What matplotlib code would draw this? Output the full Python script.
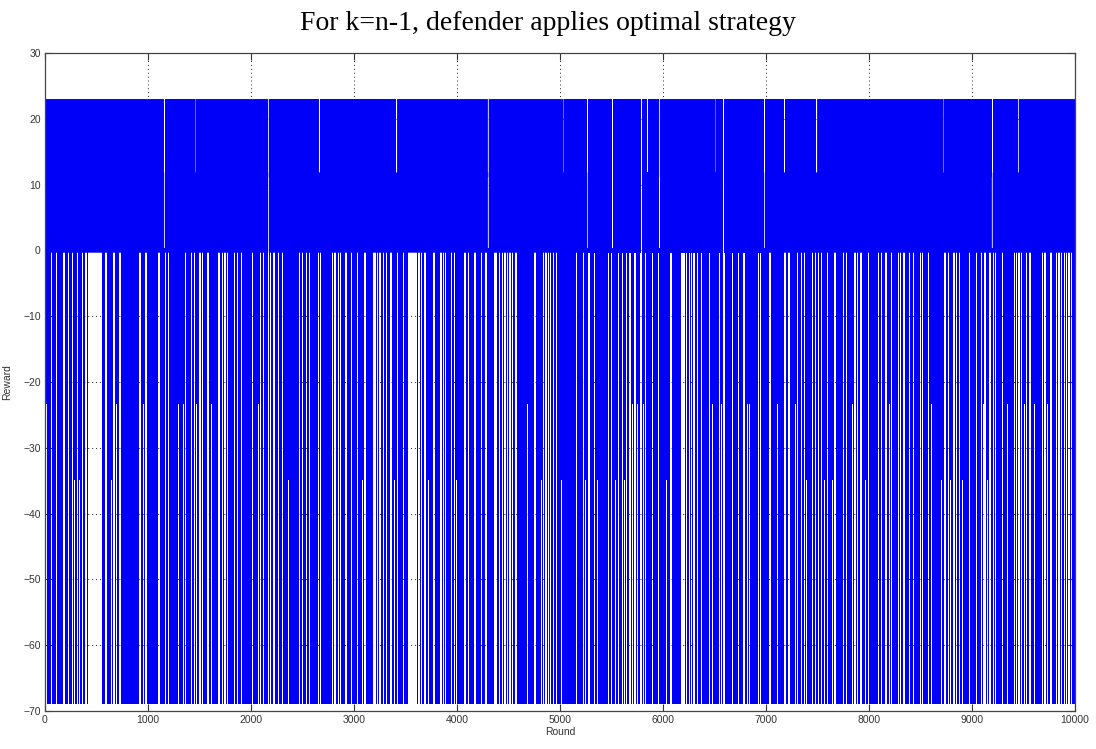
import numpy as np
import matplotlib
matplotlib.use("Agg")
import matplotlib.pyplot as plt

# ---- data ----
n_rounds = 10000
reward_levels = [23, 11.5, 0, -23, -34.5, -69]   # attainable rewards

# stretches with no drop below `floor` (white stripes in the negative half)
calm_center = [16, 65, 113, 165, 184, 227, 265, 285, 314, 333, 362, 395, 404, 482, 592, 647, 670, 696, 728, 922, 955, 981,
               1029, 1107, 1172, 1198, 1295, 1320, 1343, 1366, 1424, 1450, 1473, 1505, 1528, 1553, 1586, 1618, 1689, 1699, 1722, 1748, 1774, 1838, 1871, 1909, 1942, 2013,
               2039, 2071, 2094, 2119, 2145, 2168, 2191, 2223, 2265, 2307, 2362, 2469, 2498, 2540, 2566, 2653, 2676, 2708, 2767, 2793, 2815, 2848, 2870, 2922, 2977, 3032,
               3059, 3081, 3107, 3156, 3188, 3204, 3230, 3253, 3285, 3317, 3359, 3392, 3424, 3457, 3479, 3568, 3609, 3631, 3657, 3690, 3722, 3748, 3777, 3845, 3868, 3890, 3948, 3974, 3997,
               4078, 4110, 4175, 4239, 4262, 4281, 4320, 4369, 4385, 4411, 4443, 4466, 4489, 4514, 4540, 4573, 4683, 4757, 4822, 4838, 4864, 4887, 4909, 4935, 4967, 5000, 5016, 5058,
               5107, 5162, 5195, 5227, 5250, 5282, 5334, 5366, 5437, 5470, 5502, 5541, 5567, 5606, 5625, 5648, 5680, 5703, 5729, 5754, 5787, 5813, 5832, 5897, 5923, 5955, 5981, 6036, 6078,
               6117, 6192, 6230, 6256, 6278, 6301, 6333, 6375, 6408, 6450, 6482, 6547, 6570, 6592, 6676, 6699, 6731, 6786, 6819, 6838, 6926, 6948, 7039, 7087, 7110,
               7185, 7224, 7243, 7289, 7308, 7347, 7373, 7395, 7418, 7450, 7483, 7509, 7535, 7567, 7599, 7622, 7645, 7670, 7719, 7751, 7784, 7839, 7865, 7891, 7923, 7968, 7994, 8020, 8059, 8091,
               8123, 8165, 8198, 8220, 8253, 8285, 8308, 8340, 8359, 8392, 8431, 8456, 8502, 8521, 8554, 8576, 8609, 8706, 8738, 8770, 8793, 8825, 8851, 8877, 8910, 8942, 8974, 9094, 9126, 9149,
               9045, 9087, 9110, 9175, 9207, 9230, 9262, 9294, 9346, 9411, 9433, 9456, 9482, 9508, 9531, 9563, 9605, 9683, 9709, 9734, 9767, 9822, 9845, 9870, 9896, 9919, 9942, 9967]
calm_width = [4, 8, 8, 4, 8, 4, 8, 4, 8, 4, 8, 4, 8, 85, 8, 4, 8, 4, 8, 8, 4, 8,
              4, 8, 8, 8, 4, 4, 4, 8, 8, 8, 4, 8, 8, 4, 12, 4, 8, 4, 4, 8, 8, 8, 8, 8, 4, 8,
              4, 4, 8, 8, 4, 8, 8, 8, 8, 4, 4, 8, 8, 8, 4, 8, 4, 4, 4, 8, 8, 8, 4, 10, 8, 4,
              4, 4, 8, 4, 8, 8, 4, 8, 4, 8, 8, 4, 8, 4, 8, 48, 4, 8, 4, 8, 4, 4, 8, 8, 4, 8, 8, 4, 4,
              8, 4, 8, 8, 4, 8, 4, 8, 8, 8, 8, 8, 4, 8, 4, 8, 4, 8, 4, 8, 8, 4, 8, 4, 8, 4, 4, 4,
              4, 8, 4, 8, 4, 8, 4, 4, 4, 8, 8, 4, 8, 4, 4, 4, 8, 4, 8, 4, 8, 4, 8, 8, 4, 4, 4, 4, 8,
              4, 24, 4, 8, 4, 8, 4, 8, 4, 8, 4, 4, 4, 8, 8, 4, 8, 12, 4, 4, 4, 8, 8, 4, 4,
              8, 8, 4, 4, 8, 4, 4, 4, 4, 8, 4, 8, 4, 4, 8, 4, 4, 8, 4, 8, 4, 4, 8, 4, 8, 4, 8, 4, 4, 4,
              4, 8, 4, 8, 4, 8, 4, 8, 4, 8, 8, 4, 8, 4, 4, 8, 4, 4, 8, 8, 4, 8, 4, 8, 4, 4, 8, 4, 8, 4,
              4, 4, 4, 8, 4, 8, 4, 8, 4, 8, 4, 8, 4, 4, 8, 8, 4, 4, 8, 4, 8, 4, 8, 4, 8, 4, 8, 4]
calm_floor = [-23, 0, 0, 0, 0, 0, 0, -34.5, 0, -34.5, 0, 0, 0, 0, 0, -34.5, 0, -23, 0, 0, -23, 0,
              -23, 0, 0, 0, -23, -23, -23, 0, 0, 0, -23, 0, 0, 0, 0, -23, 0, -34.5, 0, 0, 0, 0, 0, 0, -23, 0,
              -34.5, -23, 0, 0, -34.5, 0, 0, 0, 0, 0, -34.5, 0, 0, 0, 0, 0, 0, -23, -34.5, 0, 0, 0, 0, 0, 0, 0,
              0, -34.5, 0, -34.5, 0, 0, 0, 0, 0, 0, 0, -34.5, 0, -23, 0, 0, -34.5, 0, 0, 0, -34.5, -23, 0, 0, 0, 0, 0, 0, -34.5,
              0, 0, 0, 0, -34.5, 0, -34.5, 0, 0, 0, 0, 0, 0, 0, 0, 0, -23, 0, -34.5, 0, 0, 0, 0, 0, 0, 0, -34.5, -34.5,
              0, 0, 0, 0, -34.5, 0, 0, -34.5, -23, 0, 0, -34.5, 0, 0, -34.5, 0, 0, -23, 0, -23, 0, -23, 0, 0, 0, 0, 0, -34.5, 0,
              -23, 0, 0, 0, 0, 0, 0, 0, -23, 0, -23, 0, -23, 0, 0, 0, 0, 0, -23, -23, 0, 0, 0, 0, -23,
              0, 0, 0, -23, 0, 0, 0, -34.5, -34.5, 0, 0, 0, 0, -34.5, 0, 0, -34.5, 0, 0, 0, 0, -23, 0, 0, 0, -34.5, 0, 0, 0, 0,
              0, 0, -23, 0, -23, 0, 0, 0, 0, 0, 0, 0, 0, 0, -23, 0, -23, -34.5, 0, 0, -34.5, 0, 0, 0, -34.5, 0, 0, 0, 0, -34.5,
              0, 0, -23, 0, 0, 0, 0, 0, -23, 0, 0, 0, 0, -23, 0, 0, -23, 0, 0, -23, 0, 0, 0, 0, 0, 0, 0, 0]

# rounds where the reward did not reach its usual maximum (white in the positive half)
short_center = [1159, 1456, 2171, 2663, 3009, 3414, 4304, 5039, 5269, 5512, 5793, 5852, 5874, 5965,
                6359, 6515, 6586, 6984, 7179, 7492, 8728, 9197, 9450]
short_lo = [0, 11.5, 0, 11.5, 11.5, 11.5, 0, 11.5, 0, 0, 0, 11.5, 0, 0,
            0, 11.5, 0, 0, 11.5, 11.5, 11.5, 0, 11.5]
short_hi = [23, 23, 23, 23, 23, 23, 23, 23, 23, 23, 23, 23, 23, 23,
            11.5, 23, 23, 23, 23, 23, 23, 23, 23]

x_ticks = list(range(0, 10001, 1000))
y_ticks = list(range(-70, 31, 10))

# ---- build envelope coverage for each reward band ----
rounds = np.arange(0, n_rounds + 1)
bands = [(11.5, 23), (0, 11.5), (-23, 0), (-34.5, -23), (-69, -34.5)]
cover = {b: np.ones(rounds.size, bool) for b in bands}

for c, w, f in zip(calm_center, calm_width, calm_floor):
    half = (w * 1.6) / 2
    sel = (rounds >= c - half) & (rounds <= c + half)
    for lo, hi in bands[2:]:
        if hi <= f + 1e-9:
            cover[(lo, hi)][sel] = False

for c, lo_, hi_ in zip(short_center, short_lo, short_hi):
    sel = (rounds >= c - 3) & (rounds <= c + 3)
    for lo, hi in bands[:2]:
        if lo >= lo_ - 1e-9 and hi <= hi_ + 1e-9:
            cover[(lo, hi)][sel] = False

# ---- plot ----
plt.rcParams['font.family'] = ['Liberation Sans', 'DejaVu Sans']
fig = plt.figure(figsize=(10.96, 7.49), dpi=100)
ax = fig.add_axes([45 / 1096, 1 - 711 / 749, 1030 / 1096, 658 / 749])

blue = '#0000f8'
ov = 0.35  # tiny overlap between neighbouring bands so no seam shows
for (lo, hi), m in cover.items():
    lo_e = lo - ov if lo > -69 else lo
    hi_e = hi + ov if hi < 23 else hi
    ax.fill_between(rounds, lo_e, hi_e, where=m, color=blue, linewidth=0, zorder=1, antialiased=True)

ax.set_xlim(0, n_rounds)
ax.set_ylim(-70, 30)
ax.set_xticks(x_ticks)
ax.set_yticks(y_ticks)
ax.set_axisbelow(True)
ax.grid(True, linestyle=(0, (1, 3)), color='#222222', linewidth=0.7)
ax.tick_params(direction='in', length=5, width=0.8, labelsize=7.5, colors='#333333',
               top=True, right=True, pad=3)
for sp in ax.spines.values():
    sp.set_color('#444444')
    sp.set_linewidth(0.9)

ax.set_xlabel('Round', fontsize=7.5, color='#333333', labelpad=1)
ax.set_ylabel('Reward', fontsize=7.5, color='#333333', labelpad=8)
fig.text(0.5, 1 - 23 / 749, 'For k=n-1, defender applies optimal strategy',
         ha='center', va='center', fontsize=20, family=['Liberation Serif', 'DejaVu Serif'])

fig.savefig('out.png', dpi=100)
